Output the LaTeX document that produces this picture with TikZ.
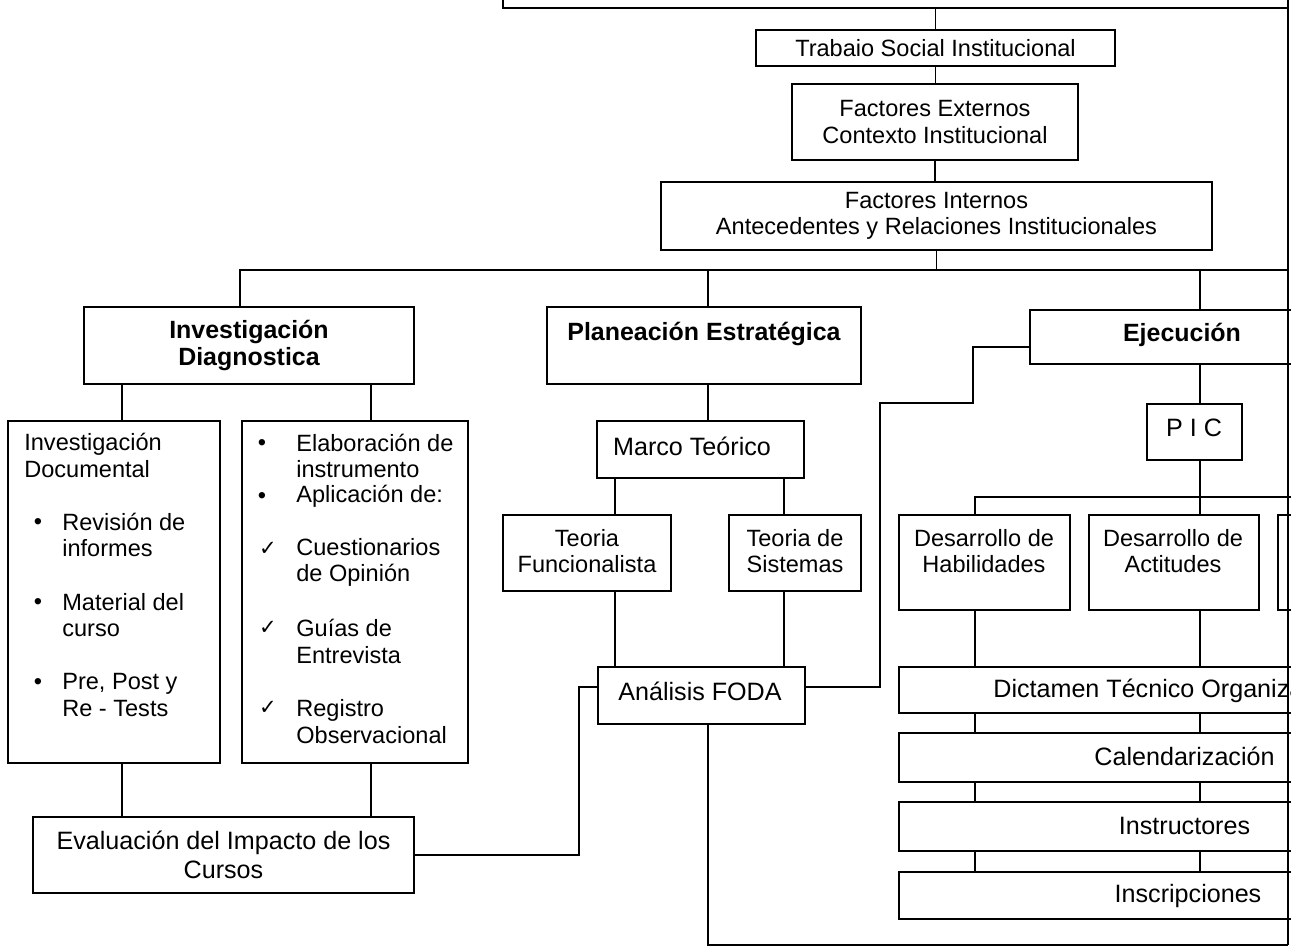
\documentclass[tikz,border=0pt]{standalone}
\usepackage{fontspec}
\setmainfont{Liberation Sans}
\newfontfamily\dejavu{DejaVu Sans}
\usetikzlibrary{fit}
\newcommand\fA{\fontsize{13.4pt}{14.9pt}\selectfont}
\newcommand\fL{\fontsize{13.4pt}{15.2pt}\selectfont}
\newcommand\fB{\fontsize{14.3pt}{16.5pt}\selectfont}
\newcommand\fH{\fontsize{14.2pt}{15.9pt}\selectfont\bfseries}
\tikzset{
  box/.style={draw, line width=1.1pt, inner sep=0pt},
  txt/.style={inner sep=0pt, align=center},
  item/.style={inner sep=0pt, anchor=west, align=left, font=\fL},
  bul/.style={inner sep=0pt, font=\fL},
  chk/.style={inner sep=0pt, font=\dejavu\fontsize{12pt}{14pt}\selectfont},
  link/.style={line width=1.1pt}
}
\begin{document}
\begin{tikzpicture}[x=0.02cm,y=-0.02cm]
\useasboundingbox (0,0) rectangle (1291,950);
\clip (0,0) rectangle (1291,950);
% boxes
\node[box, fit={(503,-30)(1288,8)}] (top) {};
\node[box, fit={(756,30)(1115,66)}] (trab) {};
\node[txt, font=\fA] (trabT) at (trab.center) {Trabaio Social Institucional};
\node[box, fit={(792,84)(1078,160)}] (fext) {};
\node[txt, font=\fA] (fextT) at (fext.center) {Factores Externos\\Contexto Institucional};
\node[box, fit={(661,182)(1212,250)}] (fint) {};
\node[txt, font=\fA] (fintT) at (fint.center) {Factores Internos\\Antecedentes y Relaciones Institucionales};
\node[box, fit={(84,307)(414,384)}] (inv) {};
\node[txt, font=\fH] (invT) at (inv.center) {Investigación\\Diagnostica};
\node[box, fit={(547,307)(861,384)}] (plan) {};
\node[txt, font=\fH] (planT) at (704,334) {Planeación Estratégica};
\node[box, fit={(1030,310)(1330,364)}] (ejec) {};
\node[txt, font=\fH] (ejecT) at (1182,335) {Ejecución};
% left lists
\node[box, fit={(8,421)(220,763)}] (doc) {};
\node[item] (docT) at (24,455.5) {Investigación\\Documental};
\node[bul] (d1b) at (38,524) {•};
\node[item] (d1) at (62,535) {Revisión de\\informes};
\node[bul] (d2b) at (38,604) {•};
\node[item] (d2) at (62,615) {Material del\\curso};
\node[bul] (d3b) at (38,684) {•};
\node[item] (d3) at (62,695) {Pre, Post y\\Re - Tests};
\node[box, fit={(242,421)(468,763)}] (apl) {};
\node[bul] (a1b) at (262,445) {•};
\node[item] (a1) at (296,456) {Elaboración de\\instrumento};
\node[bul] (a2b) at (262,498) {•};
\node[item] (a2) at (296,496) {Aplicación de:};
\node[chk] (a3b) at (268,549) {✓};
\node[item] (a3) at (296,562.5) {Cuestionarios\\de Opinión};
\node[chk] (a4b) at (268,628) {✓};
\node[item] (a4) at (296,641.5) {Guías de\\Entrevista};
\node[chk] (a5b) at (268,708) {✓};
\node[item] (a5) at (296,721.5) {Registro\\Observacional};
\node[box, fit={(33,817)(414,893)}] (eval) {};
\node[txt, font=\fB] (evalT) at (eval.center) {Evaluación del Impacto de los\\Cursos};
% planeacion
\node[box, fit={(597,421)(804,478)}] (marco) {};
\node[txt, font=\fB] (marcoT) at (692,446) {Marco Teórico};
\node[box, fit={(503,515)(671,591)}] (tfun) {};
\node[txt, font=\fA] (tfunT) at (587,551) {Teoria\\Funcionalista};
\node[box, fit={(729,515)(861,591)}] (tsis) {};
\node[txt, font=\fA] (tsisT) at (795,551) {Teoria de\\Sistemas};
\node[box, fit={(598,667)(805,724)}] (foda) {};
\node[txt, font=\fB] (fodaT) at (700,691) {Análisis FODA};
% ejecucion
\node[box, fit={(1147,404)(1242,460)}] (pic) {};
\node[txt, font=\fB] (picT) at (1194,428) {P I C};
\node[box, fit={(899,515)(1070,610)}] (hab) {};
\node[txt, font=\fA] (habT) at (984,551) {Desarrollo de\\Habilidades};
\node[box, fit={(1089,515)(1259,610)}] (act) {};
\node[txt, font=\fA] (actT) at (1173,551) {Desarrollo de\\Actitudes};
\node[box, fit={(1278,515)(1340,610)}] (third) {};
\node[box, fit={(899,667)(1340,713)}] (dict) {};
\node[txt, font=\fB, anchor=west] (dictT) at (993,691) {Dictamen Técnico Organizacional};
\node[box, fit={(899,733)(1340,782)}] (cal) {};
\node[txt, font=\fB] (calT) at (1184.5,756) {Calendarización};
\node[box, fit={(899,802)(1340,851)}] (ins) {};
\node[txt, font=\fB] (insT) at (1184.5,826) {Instructores};
\node[box, fit={(899,872)(1340,919)}] (insc) {};
\node[txt, font=\fB] (inscT) at (1188,896) {Inscripciones};
% coordinates
\coordinate (bus) at (935,270);
\coordinate (cI) at (240,270);
\coordinate (cP) at (708,270);
\coordinate (cE) at (1200,270);
\coordinate (cR) at (1288,270);
\coordinate (rTop) at (1288,0);
\coordinate (rBot) at (1288,945);
\coordinate (cD) at (122,0);
\coordinate (cA) at (371,0);
\coordinate (k1) at (579,0);
\coordinate (yF) at (0,687);
\coordinate (j1) at (880,403);
\coordinate (j2) at (973,347);
\coordinate (cF) at (615,0);
\coordinate (cS) at (784,0);
\coordinate (cH) at (975,0);
\coordinate (bus2) at (1291,497);
% connectors
\draw[link] (trab.north) -- (trab.north |- top.south);
\draw[link] (trab.south) -- (trab.south |- fext.north);
\draw[link] (fext.south) -- (fext.south |- fint.north);
\draw[link] (fint.south) -- (fint.south |- bus);
\draw[link] (cI |- inv.north) -- (cI) -- (cR);
\draw[link] (cP) -- (cP |- plan.north);
\draw[link] (cE) -- (cE |- ejec.north);
\draw[link] (rTop) -- (rBot);
\draw[link] (cP |- foda.south) -- (cP |- rBot) -- (rBot);
\draw[link] (cD |- inv.south) -- (cD |- doc.north);
\draw[link] (cA |- inv.south) -- (cA |- apl.north);
\draw[link] (cD |- doc.south) -- (cD |- eval.north);
\draw[link] (cA |- apl.south) -- (cA |- eval.north);
\draw[link] (eval.east) -| (k1 |- yF) -- (foda.west |- yF);
\draw[link] (foda.east |- yF) -| (j1) -| (j2) -- (j2 -| ejec.west);
\draw[link] (cP |- plan.south) -- (cP |- marco.north);
\draw[link] (cF |- marco.south) -- (cF |- tfun.north);
\draw[link] (cS |- marco.south) -- (cS |- tsis.north);
\draw[link] (cF |- tfun.south) -- (cF |- foda.north);
\draw[link] (cS |- tsis.south) -- (cS |- foda.north);
\draw[link] (cE |- ejec.south) -- (cE |- pic.north);
\draw[link] (cE |- pic.south) -- (cE |- act.north);
\draw[link] (cH |- hab.north) |- (bus2);
\draw[link] (cH |- hab.south) -- (cH |- dict.north);
\draw[link] (cE |- act.south) -- (cE |- dict.north);
\draw[link] (cH |- dict.south) -- (cH |- cal.north);
\draw[link] (cE |- dict.south) -- (cE |- cal.north);
\draw[link] (cH |- cal.south) -- (cH |- ins.north);
\draw[link] (cE |- cal.south) -- (cE |- ins.north);
\draw[link] (cH |- ins.south) -- (cH |- insc.north);
\draw[link] (cE |- ins.south) -- (cE |- insc.north);
\end{tikzpicture}
\end{document}
